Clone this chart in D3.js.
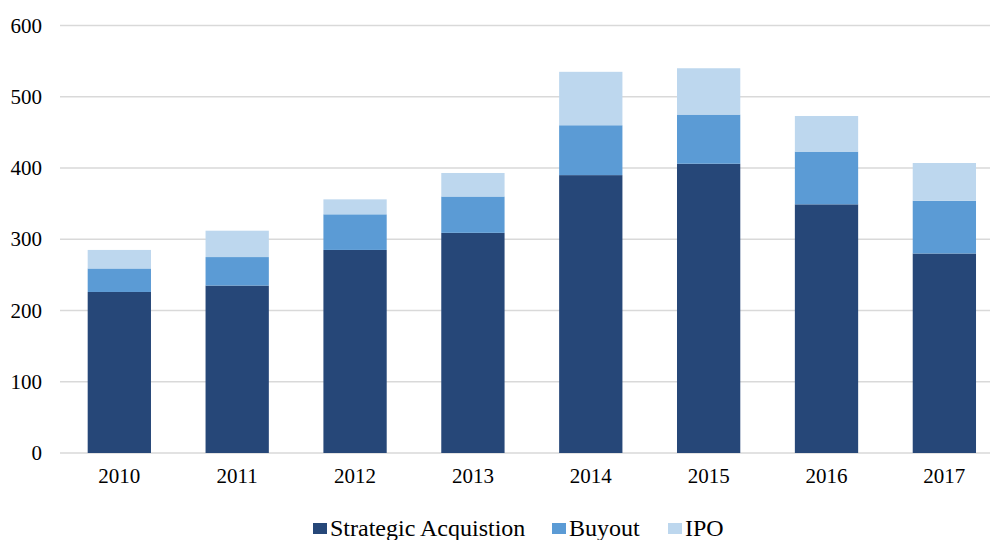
<!DOCTYPE html>
<html>
<head>
<meta charset="utf-8">
<script src="https://cdn.jsdelivr.net/npm/d3@7/dist/d3.min.js"></script>
<style>
  html, body { margin: 0; padding: 0; background: #fff; }
  svg { display: block; }
  text { font-family: "Liberation Serif", "Times New Roman", serif; fill: #000; }
</style>
</head>
<body>
<svg id="chart" width="990" height="540"></svg>
<script>
const years = ["2010", "2011", "2012", "2013", "2014", "2015", "2016", "2017"];
const seriesNames = ["Strategic Acquistion", "Buyout", "IPO"];
const strategic = [226, 235, 285, 309, 390, 406, 349, 280];
const buyout = [33, 40, 50, 51, 70, 69, 74, 74];
const ipo = [26, 37, 21, 33, 75, 65, 50, 53];
const yTicks = [0, 100, 200, 300, 400, 500, 600];
const colors = ["#264778", "#5b9bd5", "#bdd7ee"];

const table = years.map((y, i) => ({
  year: y,
  "Strategic Acquistion": strategic[i],
  "Buyout": buyout[i],
  "IPO": ipo[i]
}));

const svg = d3.select("#chart");

const y = d3.scaleLinear().domain([0, 600]).range([453, 25.5]);
const x = d3.scaleBand().domain(years).range([60.4, 1003.3]).paddingInner(0.463).paddingOuter(0.2315);

// gridlines
svg.append("g")
  .selectAll("line")
  .data(yTicks)
  .join("line")
  .attr("x1", 60).attr("x2", 990)
  .attr("y1", d => y(d)).attr("y2", d => y(d))
  .attr("stroke", "#d9d9d9").attr("stroke-width", 1.5);

// y axis labels
const yAxis = d3.axisLeft(y).tickValues(yTicks).tickSize(0).tickPadding(0);
svg.append("g")
  .attr("transform", "translate(42,0)")
  .call(yAxis)
  .call(g => g.select(".domain").remove())
  .call(g => g.selectAll("text")
    .attr("font-family", "Liberation Serif, Times New Roman, serif")
    .attr("font-size", 21).attr("fill", "#000"));

// stacked bars
const stack = d3.stack().keys(seriesNames);
const layers = stack(table);

svg.append("g")
  .selectAll("g")
  .data(layers)
  .join("g")
  .attr("fill", (d, i) => colors[i])
  .selectAll("rect")
  .data(d => d)
  .join("rect")
  .attr("x", d => x(d.data.year))
  .attr("width", x.bandwidth())
  .attr("y", d => y(d[1]))
  .attr("height", d => y(d[0]) - y(d[1]));

// x axis labels
const xAxis = d3.axisBottom(x).tickSize(0).tickPadding(0);
svg.append("g")
  .attr("transform", "translate(0,468)")
  .call(xAxis)
  .call(g => g.select(".domain").remove())
  .call(g => g.selectAll("text")
    .attr("font-family", "Liberation Serif, Times New Roman, serif")
    .attr("font-size", 21).attr("fill", "#000").attr("dy", "0.71em"));

// legend
const legendX = [313, 552, 668];
const legend = svg.append("g");
seriesNames.forEach((name, i) => {
  legend.append("rect")
    .attr("x", legendX[i]).attr("y", 523)
    .attr("width", 14).attr("height", 11)
    .attr("fill", colors[i]);
  legend.append("text")
    .attr("x", legendX[i] + 17).attr("y", 536)
    .attr("font-size", 24)
    .text(name);
});
</script>
</body>
</html>
